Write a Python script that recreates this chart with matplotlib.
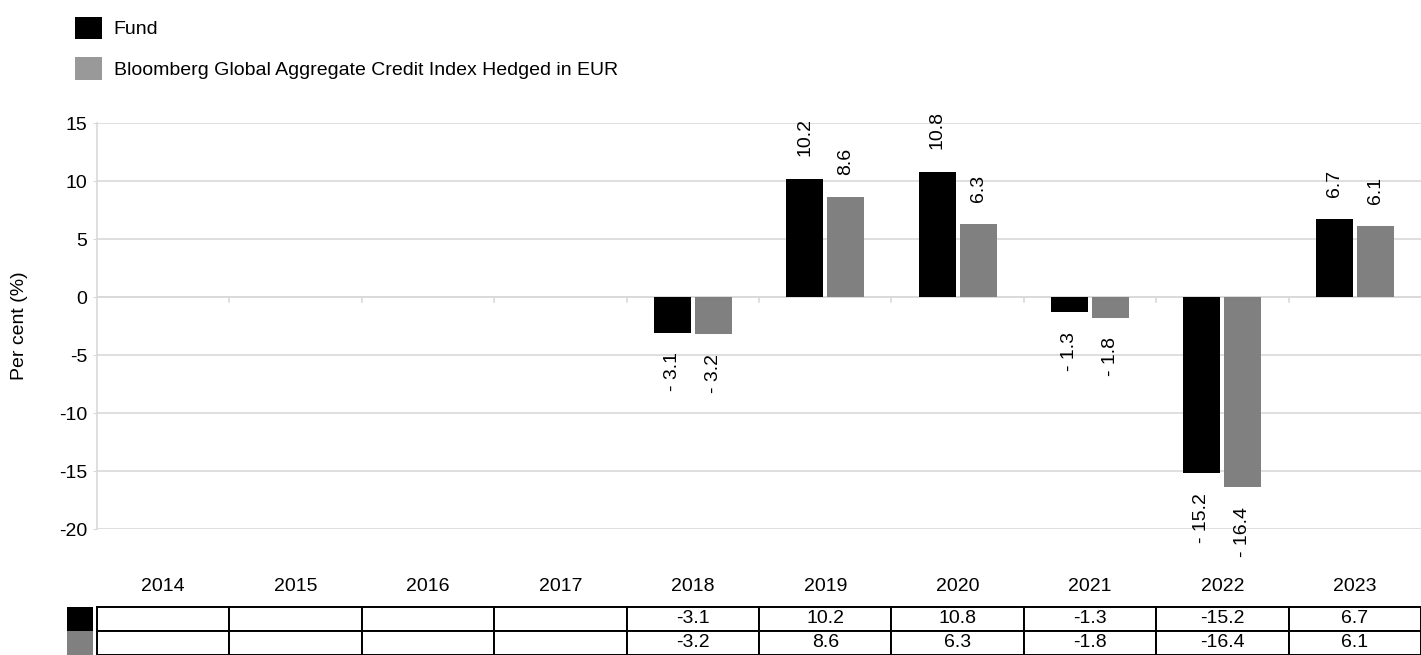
import numpy as np
import matplotlib.pyplot as plt
from matplotlib.patches import Patch, Rectangle
from matplotlib.transforms import blended_transform_factory

plt.rcParams['font.family'] = ['Liberation Sans', 'DejaVu Sans']
plt.rcParams['font.size'] = 14
plt.rcParams['axes.unicode_minus'] = False

years = ['2014', '2015', '2016', '2017', '2018', '2019', '2020', '2021', '2022', '2023']
fund = [np.nan, np.nan, np.nan, np.nan, -3.1, 10.2, 10.8, -1.3, -15.2, 6.7]
index = [np.nan, np.nan, np.nan, np.nan, -3.2, 8.6, 6.3, -1.8, -16.4, 6.1]
names = ['Fund', 'Bloomberg Global Aggregate Credit Index Hedged in EUR']
bar_colors = ['#000000', '#808080']
legend_colors = ['#000000', '#999999']
grid_color = '#d9d9d9'
fs = 14


def fmt(v):
    if np.isnan(v):
        return ''
    return f'- {abs(v):.1f}' if v < 0 else f'{v:.1f}'


fig = plt.figure(figsize=(14.21, 6.55), dpi=100)
ax = fig.add_axes([97 / 1421, 126 / 655, 1 - 97 / 1421, 406 / 655])

x = np.arange(len(years))
width = 0.28
offsets = [-0.155, 0.155]
for series, off, col in zip([fund, index], offsets, bar_colors):
    vals = np.array(series, dtype=float)
    ax.bar(x + off, np.nan_to_num(vals), width, color=col, zorder=3)
    for xi, v in zip(x, vals):
        if np.isnan(v):
            continue
        if v >= 0:
            ax.annotate(fmt(v), (xi + off, v), xytext=(0, 16), textcoords='offset points',
                        rotation=90, ha='center', va='bottom', fontsize=fs)
        else:
            ax.annotate(fmt(v), (xi + off, v), xytext=(0, -14), textcoords='offset points',
                        rotation=90, ha='center', va='top', fontsize=fs)

ax.set_xlim(-0.5, len(years) - 0.5)
ax.set_ylim(-20, 15)
ax.set_yticks(np.arange(-20, 16, 5))
ax.yaxis.grid(True, color=grid_color, linewidth=1.2, zorder=0)
ax.set_axisbelow(True)
for s in ['top', 'right', 'bottom']:
    ax.spines[s].set_visible(False)
ax.spines['left'].set_color(grid_color)
ax.spines['left'].set_linewidth(1.2)
ax.tick_params(axis='y', length=3, color=grid_color, labelsize=fs, pad=4)
ax.set_xticks([])
ax.axhline(0, color=grid_color, linewidth=1.2, zorder=1)
# small category ticks hanging below the zero line
for b in np.arange(0.5, len(years) - 0.5, 1):
    ax.plot([b, b], [0, -0.45], color=grid_color, linewidth=1.2, zorder=1, clip_on=False)
ax.set_ylabel('Per cent (%)', fontsize=fs, labelpad=22)

# year labels under the plot
trans = blended_transform_factory(ax.transData, ax.transAxes)
for xi, yr in zip(x, years):
    ax.text(xi, -0.142, yr, transform=trans, ha='center', va='center', fontsize=fs)

# data table
cell_text = [[fmt(v).replace('- ', '-') for v in fund],
             [fmt(v).replace('- ', '-') for v in index]]
tbl = ax.table(cellText=cell_text, cellLoc='center', bbox=[0, -0.31, 1, 0.118])
tbl.auto_set_font_size(False)
tbl.set_fontsize(fs)
for cell in tbl.get_celld().values():
    cell.set_linewidth(1.4)
    cell.set_edgecolor('black')
for i, col in enumerate(bar_colors):
    ax.add_patch(Rectangle((-30 / 1324, -0.192 - (i + 1) * 0.059), 26 / 1324, 0.059,
                           transform=ax.transAxes, facecolor=col, edgecolor='none',
                           clip_on=False))

handles = [Patch(facecolor=c, edgecolor='none') for c in legend_colors]
fig.legend(handles, names, loc='upper left', bbox_to_anchor=(0.041, 1.0), frameon=False,
           fontsize=fs, handlelength=1.4, handleheight=1.4, labelspacing=0.95,
           handletextpad=0.6, borderaxespad=0.45)

fig.savefig('out.png', dpi=100)
